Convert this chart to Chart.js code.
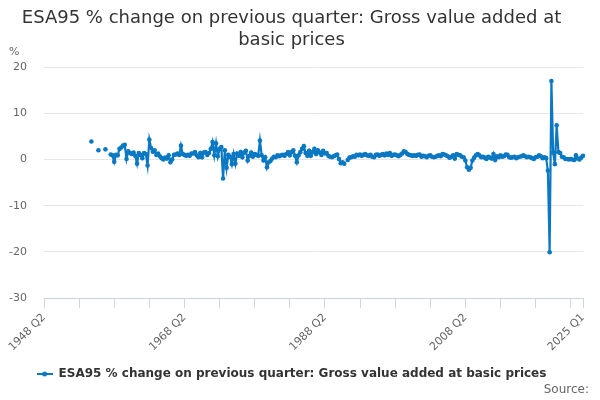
<!DOCTYPE html>
<html>
<head>
<meta charset="utf-8">
<title>ESA95 % change on previous quarter: Gross value added at basic prices</title>
<script src="https://cdn.jsdelivr.net/npm/chart.js@4"></script>
<style>
  html, body { margin: 0; padding: 0; background: #ffffff; }
  #wrap { width: 600px; height: 400px; position: relative; }
</style>
</head>
<body>
<div id="wrap"><canvas id="chart"></canvas></div>
<script>
// Quarterly series, first category is 1948 Q2, last is 2025 Q1
const startYear = 1948;
const startQuarter = 2;

// % change on previous quarter (null = no value)
const gvaChange = [
  // 1948 Q2 - 1955 Q4
  null, null, null, null, null, null, null, null, null, null,
  null, null, null, null, null, null, null, null, null, null,
  null, null, null, null, null, null, null, 3.9, null, null,
  // 1956 Q1 -
  null, 2.0, null, null, null, 2.2, null, null, 1.1, 0.9,
  -0.5, 1.0, 0.9, 2.3, 2.6, 3.0, 3.2, 0.1, 1.8, 1.4,
  1.2, 1.5, 0.8, -0.9, 1.4, 1.0, 0.3, 1.4, 1.2, -1.3,
  4.3, 2.5, 1.7, 2.0, 1.0, 1.3, 0.7, 0.3, 0.0, 0.4,
  0.2, 0.9, -0.6, 0.0, 1.0, 1.1, 1.3, 1.0, 3.0, 1.2,
  // 1968 Q2 -
  1.0, 0.8, 1.0, 0.8, 1.3, 1.3, 1.6, 0.9, 0.5, 1.4,
  0.5, 1.5, 1.6, 1.0, 1.4, 2.3, 3.8, 0.9, 3.5, 0.7,
  2.3, 2.7, -4.1, 2.0, -1.8, 1.0, 0.6, -1.0, 1.2, -0.9,
  1.3, 0.8, 1.6, 0.5, 1.5, 1.9, -0.2, 0.8, 1.5, 0.6,
  1.2, 1.0, 0.8, 4.1, 0.9, -0.2, 0.5, -1.7, -0.6, -0.3,
  0.2, 0.6, 0.5, 0.9, 0.7, 0.9, 1.0, 0.8, 1.2, 1.6,
  0.9, 1.6, 2.0, 0.8, -0.6, 0.9, 1.6, 2.3, 2.9, 1.4,
  0.8, 1.9, 0.8, 1.6, 2.3, 1.2, 2.0, 1.5, 1.0, 1.9,
  // 1988 Q2 -
  1.3, 1.4, 0.8, 0.6, 0.5, 0.7, 0.9, 1.1, 0.1, -0.8,
  -0.6, -0.9, null, -0.1, 0.4, 0.5, 0.7, 0.6, 1.0, 0.9,
  1.1, 0.8, 1.0, 1.2, 0.9, 0.8, 1.0, 0.6, 0.5, 1.0,
  1.1, 0.8, 1.0, 1.2, 0.9, 1.3, 1.0, 1.4, 0.8, 1.0,
  1.1, 0.9, 0.7, 1.0, 1.3, 1.8, 1.6, 1.2, 1.0, 0.9,
  0.8, 0.9, 0.8, 1.0, 1.1, 0.6, 0.8, 0.7, 0.5, 0.8,
  0.9, 0.6, 0.5, 0.6, 0.8, 0.9, 0.7, 1.2, 1.1, 0.9,
  0.7, 0.4, 0.6, 0.9, 0.2, 1.2, 1.0, 0.9, 0.6, 0.5,
  // 2008 Q2 -
  -0.2, -1.7, -2.2, -1.8, -0.2, 0.4, 0.9, 1.2, 0.9, 0.5,
  0.6, 0.4, 0.1, 0.6, 0.4, 0.2, 1.2, -0.1, 0.7, 0.5,
  0.9, 0.6, 0.7, 1.1, 1.0, 0.5, 0.4, 0.5, 0.6, 0.3,
  0.5, 0.6, 0.7, 0.9, 0.7, 0.5, 0.6, 0.5, 0.3, 0.1,
  0.5, 0.6, 0.9, 0.7, 0.3, 0.5, 0.3, -2.4, -20.1, 17.0,
  1.5, -1.0, 7.4, 1.6, 1.4, 0.6, 0.5, 0.1, 0.1, 0.0,
  0.1, 0.0, -0.1, 0.9, 0.2, 0.0, 0.4, 0.8
];

const yTicks = [20, 10, 0, -10, -20, -30];
const labelledQuarters = ['1948 Q2', '1968 Q2', '1988 Q2', '2008 Q2', '2025 Q1'];
const tickEvery = 20; // small tick marks every 5 years

const lineColor = '#0a78c2';

// build the quarter categories
const quarters = [];
for (let i = 0; i < gvaChange.length; i++) {
  const n = startQuarter - 1 + i;
  quarters.push((startYear + Math.floor(n / 4)) + ' Q' + (n % 4 + 1));
}
const lastIndex = quarters.length - 1;

// legend symbol: short line with a marker, like the original
const legendSymbol = document.createElement('canvas');
legendSymbol.width = 16;
legendSymbol.height = 8;
(function () {
  const c = legendSymbol.getContext('2d');
  c.strokeStyle = lineColor;
  c.lineWidth = 2;
  c.beginPath();
  c.moveTo(0, 4);
  c.lineTo(16, 4);
  c.stroke();
  c.fillStyle = lineColor;
  c.beginPath();
  c.arc(8, 4, 2.5, 0, Math.PI * 2);
  c.fill();
})();

// unit label and source line
const extraText = {
  id: 'extraText',
  afterDraw(chart) {
    const ctx = chart.ctx;
    ctx.save();
    ctx.textBaseline = 'middle';
    ctx.fillStyle = '#666666';
    ctx.font = '11px "DejaVu Sans"';
    ctx.textAlign = 'left';
    ctx.fillText('%', 9, 52);
    ctx.font = '12px "DejaVu Sans"';
    ctx.textAlign = 'right';
    ctx.fillText('Source:', 589, 390);
    ctx.restore();
  }
};

const isTickMark = (i) => i % tickEvery === 0 || i === lastIndex;

new Chart(document.getElementById('chart'), {
  type: 'line',
  data: {
    labels: quarters,
    datasets: [{
      label: 'ESA95 % change on previous quarter: Gross value added at basic prices',
      data: gvaChange,
      borderColor: lineColor,
      backgroundColor: lineColor,
      borderWidth: 2.2,
      pointRadius: 2.3,
      pointBorderWidth: 0,
      pointBackgroundColor: lineColor,
      pointHoverRadius: 3,
      tension: 0,
      spanGaps: false,
      fill: false
    }]
  },
  options: {
    responsive: true,
    maintainAspectRatio: false,
    animation: false,
    layout: {
      padding: { left: 0, right: 17, top: 0, bottom: 10 }
    },
    plugins: {
      title: {
        display: true,
        text: ['ESA95 % change on previous quarter: Gross value added at', 'basic prices'],
        color: '#333333',
        font: { family: '"DejaVu Sans"', size: 18, weight: 'normal', lineHeight: 1.2 },
        padding: { top: 8, bottom: 16 }
      },
      legend: {
        position: 'bottom',
        labels: {
          color: '#333333',
          font: { family: '"DejaVu Sans"', size: 12, weight: 'bold' },
          usePointStyle: true,
          pointStyle: legendSymbol,
          pointStyleWidth: 16,
          boxHeight: 8,
          padding: 10
        }
      },
      tooltip: { enabled: false }
    },
    scales: {
      x: {
        afterFit(scale) { scale.height = 60; },
        border: { display: true, color: '#ccd6eb', width: 1 },
        grid: {
          display: true,
          drawOnChartArea: false,
          drawTicks: true,
          tickLength: 10,
          color: (ctx) => isTickMark(ctx.index) ? '#ccd6eb' : 'rgba(0,0,0,0)',
          tickColor: (ctx) => isTickMark(ctx.index) ? '#ccd6eb' : 'rgba(0,0,0,0)'
        },
        ticks: {
          autoSkip: false,
          maxRotation: 45,
          minRotation: 45,
          padding: 3,
          color: '#666666',
          font: { family: '"DejaVu Sans"', size: 11 },
          callback: function (value) {
            const label = this.getLabelForValue(value);
            return labelledQuarters.includes(label) ? label : '';
          }
        }
      },
      y: {
        min: yTicks[yTicks.length - 1],
        max: yTicks[0],
        afterFit(scale) { scale.width = 44; },
        afterBuildTicks(scale) { scale.ticks = yTicks.map(v => ({ value: v })); },
        border: { display: false },
        grid: { color: '#e6e6e6', drawTicks: false },
        ticks: {
          padding: 17,
          color: '#666666',
          font: { family: '"DejaVu Sans"', size: 11 }
        }
      }
    }
  },
  plugins: [extraText]
});
</script>
</body>
</html>
